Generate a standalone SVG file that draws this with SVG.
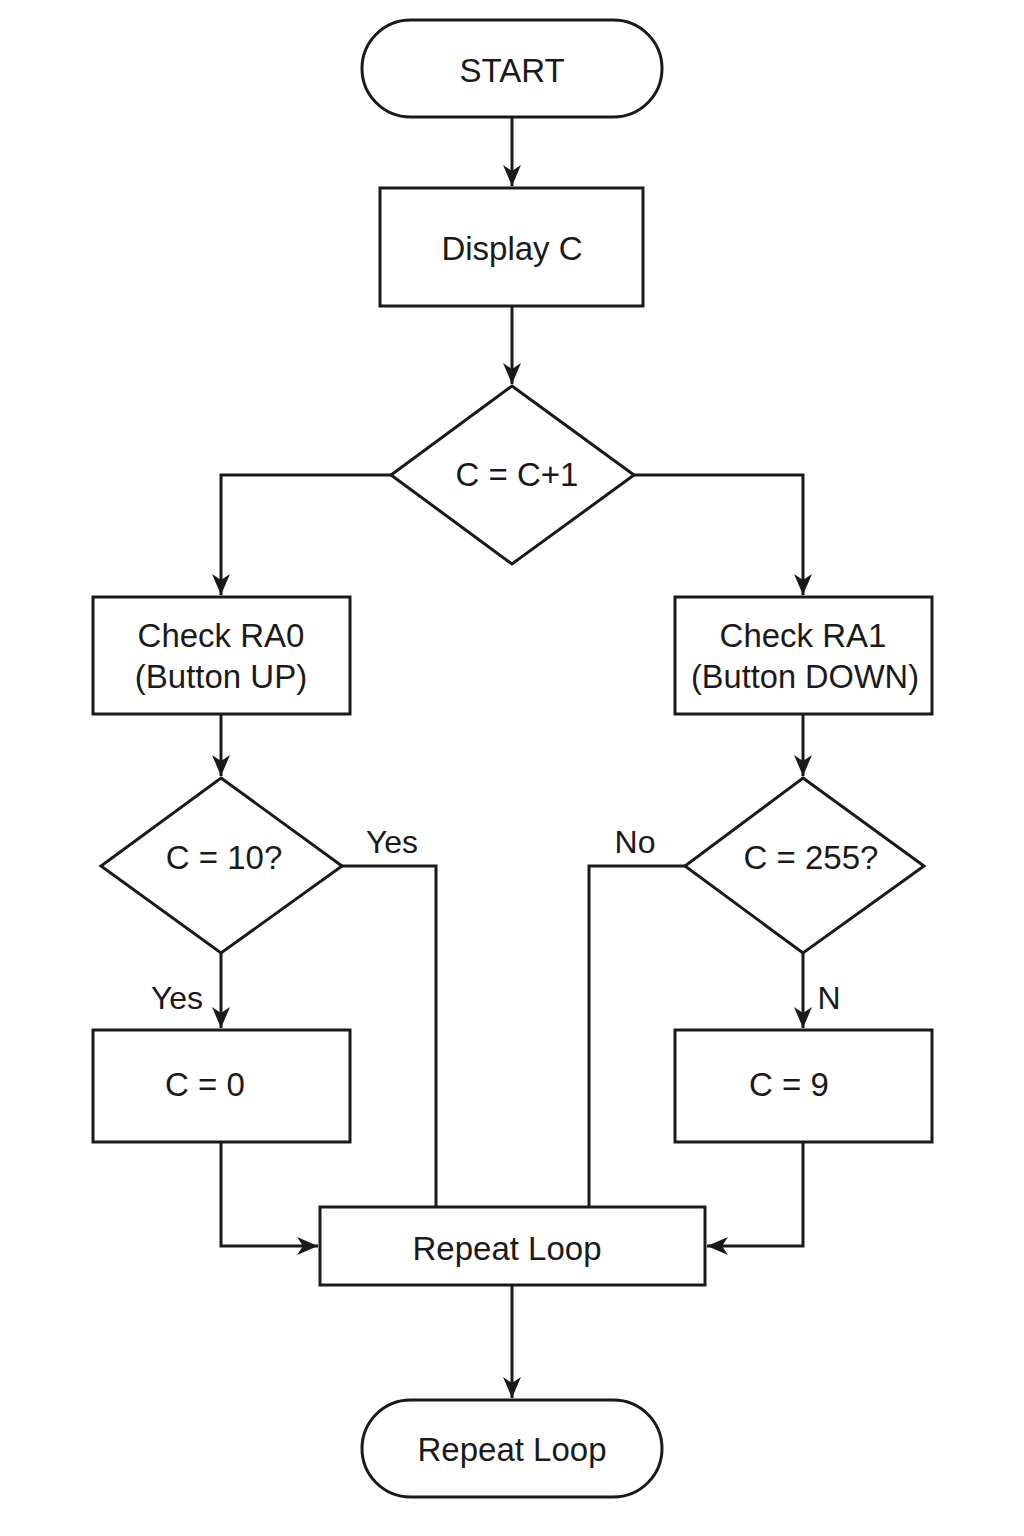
<svg xmlns="http://www.w3.org/2000/svg" width="1024" height="1536" viewBox="0 0 1024 1536">
<defs>
<marker id="arr" viewBox="0 0 24 24" refX="21" refY="12" markerWidth="24" markerHeight="24" markerUnits="userSpaceOnUse" orient="auto">
<path d="M0,3 L21,12 L0,21 L6,12 Z" fill="#1a1a1a"/>
</marker>
<style>
.s{fill:#fff;stroke:#1a1a1a;stroke-width:3}
.c{fill:none;stroke:#1a1a1a;stroke-width:3}
.t{font-family:"Liberation Sans",Arial,sans-serif;font-size:33px;fill:#1a1a1a;text-anchor:middle;dominant-baseline:central}
.l{font-family:"Liberation Sans",Arial,sans-serif;font-size:32px;fill:#1a1a1a;text-anchor:middle;dominant-baseline:central}
</style>
</defs>
<rect width="1024" height="1536" fill="#fff"/>
<g id="connectors">
<path class="c" d="M512,117 V186" marker-end="url(#arr)"/>
<path class="c" d="M512,306 V384" marker-end="url(#arr)"/>
<path class="c" d="M391,475 H221 V595" marker-end="url(#arr)"/>
<path class="c" d="M634,475 H803 V595" marker-end="url(#arr)"/>
<path class="c" d="M221,714 V776" marker-end="url(#arr)"/>
<path class="c" d="M803,714 V776" marker-end="url(#arr)"/>
<path class="c" d="M221,953 V1028" marker-end="url(#arr)"/>
<path class="c" d="M803,953 V1028" marker-end="url(#arr)"/>
<path class="c" d="M342,866 H436 V1207"/>
<path class="c" d="M685,866 H589 V1207"/>
<path class="c" d="M221,1142 V1246 H318" marker-end="url(#arr)"/>
<path class="c" d="M803,1142 V1246 H707" marker-end="url(#arr)"/>
<path class="c" d="M512,1285 V1398" marker-end="url(#arr)"/>
<text class="l" x="392" y="842">Yes</text>
<text class="l" x="177" y="998">Yes</text>
<text class="l" x="635" y="842">No</text>
<text class="l" x="829" y="998">N</text>
</g>
<g id="start">
<rect class="s" x="362" y="20" width="300" height="97" rx="48.5"/>
<text class="t" x="512" y="70">START</text>
</g>
<g id="display">
<rect class="s" x="380" y="188" width="263" height="118"/>
<text class="t" x="512" y="248">Display C</text>
</g>
<g id="inc">
<polygon class="s" points="512,386 634,475 512,564 391,475"/>
<text class="t" x="517" y="474">C = C+1</text>
</g>
<g id="ra0">
<rect class="s" x="93" y="597" width="257" height="117"/>
<text class="t" x="221" y="635">Check RA0</text>
<text class="t" x="221" y="676">(Button UP)</text>
</g>
<g id="ra1">
<rect class="s" x="675" y="597" width="257" height="117"/>
<text class="t" x="803" y="635">Check RA1</text>
<text class="t" x="805" y="676" textLength="228" lengthAdjust="spacingAndGlyphs">(Button DOWN)</text>
</g>
<g id="c10">
<polygon class="s" points="221,778 342,866 221,953 101,866"/>
<text class="t" x="224" y="857">C = 10?</text>
</g>
<g id="c255">
<polygon class="s" points="803,778 924,866 803,953 685,866"/>
<text class="t" x="811" y="857">C = 255?</text>
</g>
<g id="c0">
<rect class="s" x="93" y="1030" width="257" height="112"/>
<text class="t" x="205" y="1084">C = 0</text>
</g>
<g id="c9">
<rect class="s" x="675" y="1030" width="257" height="112"/>
<text class="t" x="789" y="1084">C = 9</text>
</g>
<g id="repeat">
<rect class="s" x="320" y="1207" width="385" height="78"/>
<text class="t" x="507" y="1248">Repeat Loop</text>
</g>
<g id="end">
<rect class="s" x="362" y="1400" width="300" height="97" rx="48.5"/>
<text class="t" x="512" y="1449">Repeat Loop</text>
</g>
</svg>
